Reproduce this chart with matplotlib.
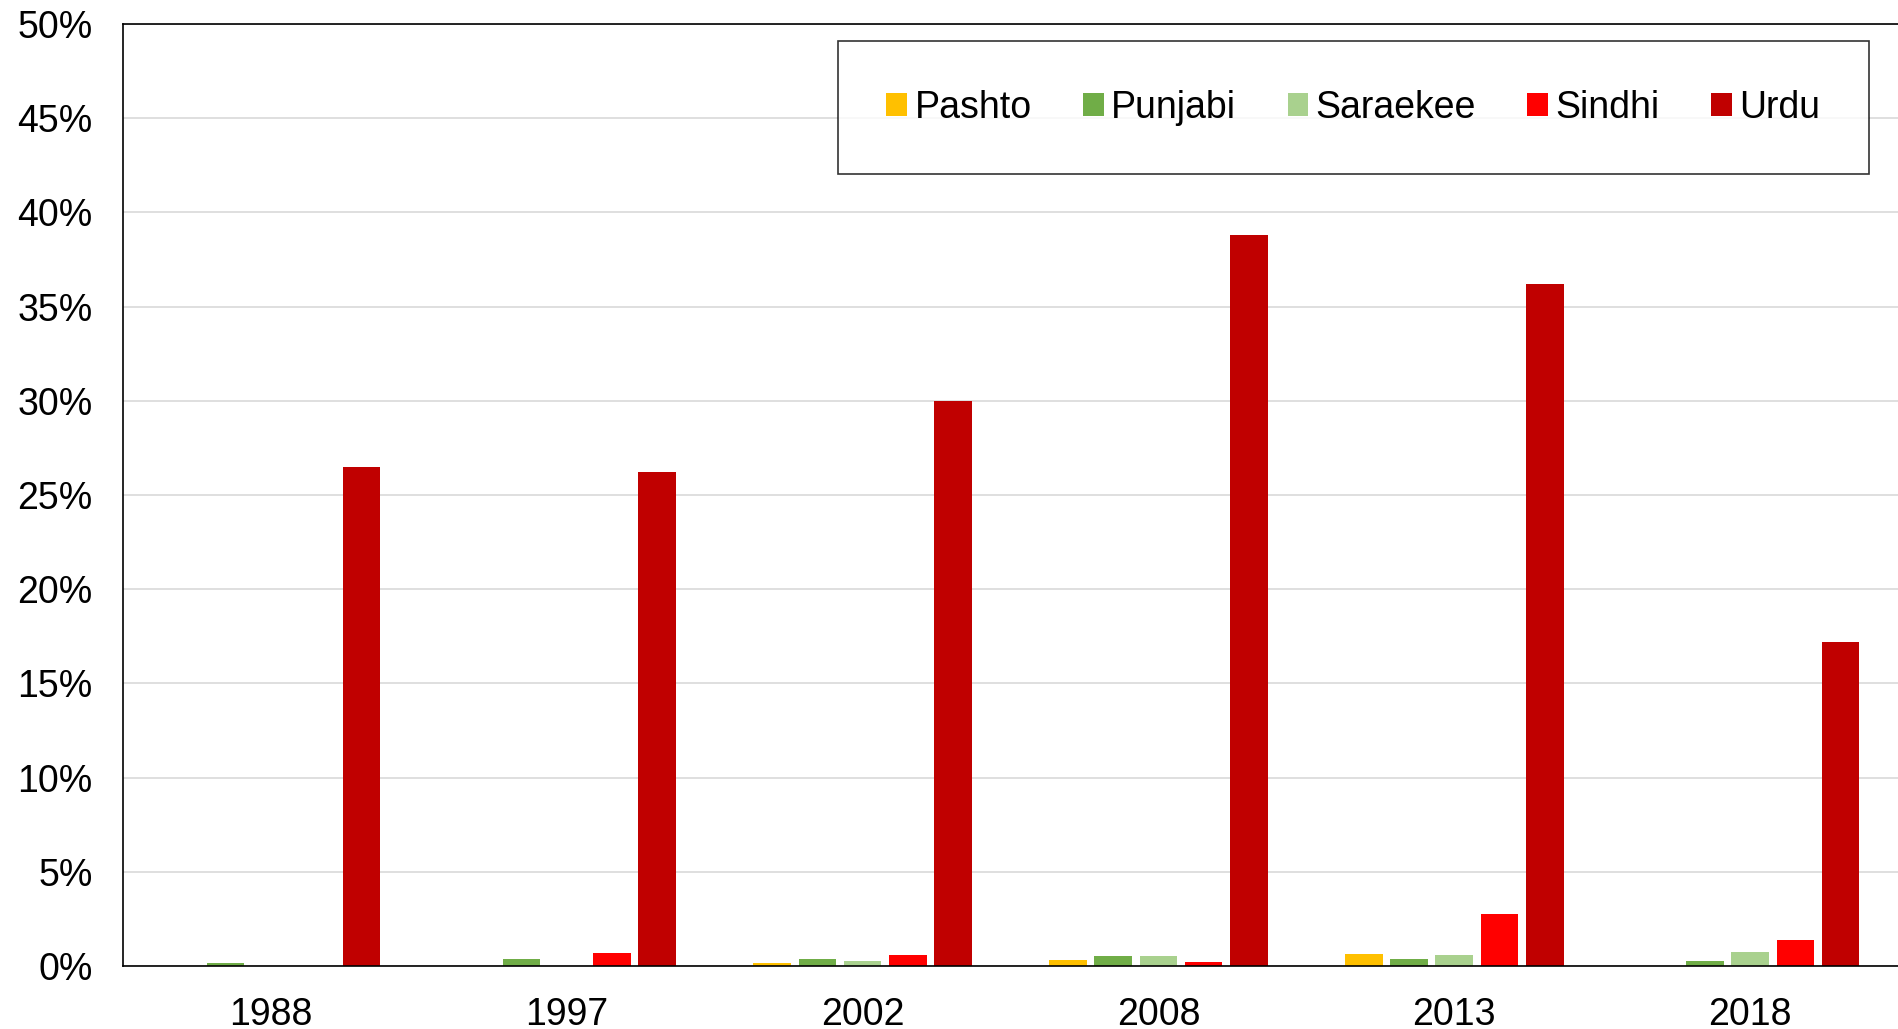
import numpy as np
import matplotlib
matplotlib.use("Agg")
import matplotlib.pyplot as plt
from matplotlib.ticker import PercentFormatter

plt.rcParams['font.family'] = ['Liberation Sans', 'DejaVu Sans']

years = ["1988", "1997", "2002", "2008", "2013", "2018"]
languages = ["Pashto", "Punjabi", "Saraekee", "Sindhi", "Urdu"]
colors = ["#FFC000", "#70AD47", "#A9D18E", "#FF0000", "#C00000"]

# share in percent, per language, per year
pashto = [0.0, 0.0, 0.14, 0.30, 0.64, 0.0]
punjabi = [0.18, 0.39, 0.35, 0.51, 0.37, 0.28]
saraekee = [0.0, 0.0, 0.28, 0.53, 0.58, 0.73]
sindhi = [0.0, 0.67, 0.57, 0.19, 2.74, 1.40]
urdu = [26.5, 26.2, 30.0, 38.8, 36.2, 17.2]

series = [pashto, punjabi, saraekee, sindhi, urdu]

fig = plt.figure(figsize=(18.98, 10.29), dpi=100)
ax = fig.add_axes([0.0648, 0.0612, 0.9352, 0.9155])

x = np.arange(len(years))
slot = 0.153
width = 0.127
for i, (name, vals, col) in enumerate(zip(languages, series, colors)):
    ax.bar(x + (i - 2) * slot, vals, width, color=col, label=name, zorder=3)

ax.set_xlim(-0.5, len(years) - 0.5)
ax.set_ylim(0, 50)
ax.set_yticks(np.arange(0, 51, 5))
ax.yaxis.set_major_formatter(PercentFormatter(decimals=0))
ax.set_xticks(x)
ax.set_xticklabels(years)
ax.tick_params(axis='both', length=0, labelsize=27)
ax.tick_params(axis='y', pad=22)
ax.tick_params(axis='x', pad=22)

ax.grid(axis='y', color='#d9d9d9', linewidth=1.2, zorder=0)
ax.set_axisbelow(True)
for s in ['left', 'top', 'bottom']:
    ax.spines[s].set_color('black')
    ax.spines[s].set_linewidth(1.2)
ax.spines['right'].set_visible(False)
ax.spines['bottom'].set_zorder(4)

leg = ax.legend(loc='center', bbox_to_anchor=(0.713, 0.8955),
                bbox_transform=fig.transFigure, ncol=5, fontsize=27,
                frameon=True, fancybox=False, handlelength=0.55,
                handleheight=0.55, handletextpad=0.2, columnspacing=1.37,
                borderpad=1.3)
leg.get_frame().set_edgecolor('black')
leg.get_frame().set_linewidth(1.2)

fig.savefig("out.png", dpi=100)
